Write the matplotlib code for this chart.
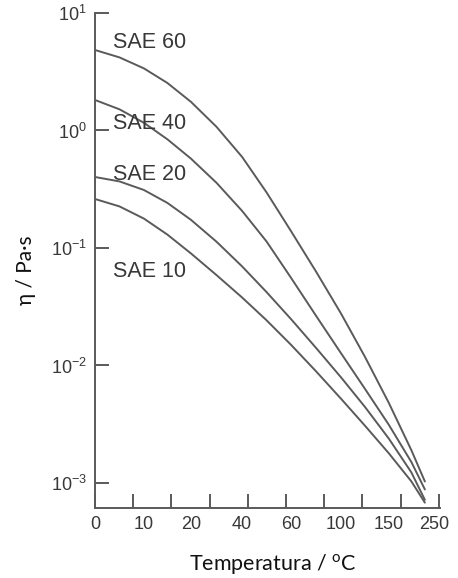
import numpy as np
import matplotlib
matplotlib.use("Agg")
import matplotlib.pyplot as plt
from matplotlib.ticker import FixedLocator, FixedFormatter, NullFormatter, NullLocator

# ---- data ----
temps = [0, 5, 10, 15, 20, 30, 40, 50, 60, 80, 100, 125, 150, 200, 230]
sae60 = [4.843, 4.190, 3.378, 2.537, 1.755, 1.075, 0.596, 0.2973, 0.1392, 0.0630,
         0.02765, 0.01186, 0.004805, 0.001902, 0.001030]
sae40 = [1.818, 1.515, 1.163, 0.8416, 0.5766, 0.3588, 0.2069, 0.1136, 0.05578, 0.02649,
         0.01270, 0.006333, 0.003129, 0.001509, 0.000881]
sae20 = [0.4019, 0.3688, 0.3116, 0.2419, 0.1738, 0.1131, 0.06973, 0.04214, 0.02483, 0.01412,
         0.007918, 0.004443, 0.002387, 0.001231, 0.000718]
sae10 = [0.2612, 0.2259, 0.1779, 0.1300, 0.08995, 0.05881, 0.03791, 0.02425, 0.01500, 0.008925,
         0.005208, 0.003075, 0.001790, 0.001032, 0.000680]
series_names = ["SAE 60", "SAE 40", "SAE 20", "SAE 10"]
x_tick_labels = [0, 10, 20, 40, 60, 100, 150, 250]

# temperature scale of the chart (label temperatures -> axis position)
scale_T = [-50, 0, 10, 20, 40, 60, 100, 150, 250, 300]
scale_P = [-6.4, 0.0, 1.28, 2.51, 3.85, 5.13, 6.44, 7.69, 8.87, 9.46]

def fwd(t):
    return np.interp(t, scale_T, scale_P)

def inv(p):
    return np.interp(p, scale_P, scale_T)

gray = "#5a5a5a"
txt = "#383838"
plt.rcParams['font.family'] = ['Liberation Sans', 'DejaVu Sans']

fig = plt.figure(figsize=(4.58, 5.78), dpi=100)
ax = fig.add_axes([95/458, (578-508)/578, (440-95)/458, (508-13)/578])
ax.set_xscale('function', functions=(fwd, inv))
ax.set_yscale('log')

for ys in (sae60, sae40, sae20, sae10):
    ax.plot(temps, ys, color=gray, lw=1.4, solid_capstyle='round', solid_joinstyle='round')

ax.set_xlim(inv(0.0), inv(9.03))
ax.set_ylim(10**-3.213, 10**1)

# x ticks: evenly spaced marks, labels placed separately
ax.xaxis.remove_overlapping_locs = False
ax.xaxis.set_major_locator(FixedLocator(inv(np.arange(10))))
ax.xaxis.set_major_formatter(NullFormatter())
ax.xaxis.set_minor_locator(FixedLocator(x_tick_labels))
ax.xaxis.set_minor_formatter(FixedFormatter([str(v) for v in x_tick_labels]))
ax.tick_params(axis='x', which='major', direction='in', length=10, width=1.4, color=gray)
ax.tick_params(axis='x', which='minor', length=0, pad=6, labelsize=13, labelcolor=txt)

ax.yaxis.set_major_locator(FixedLocator([1e-3, 1e-2, 1e-1, 1e0, 1e1]))
ax.yaxis.set_minor_locator(NullLocator())
ax.tick_params(axis='y', which='major', direction='in', length=10, width=1.4, color=gray,
               labelsize=13, labelcolor=txt, pad=6)

for s in ('top', 'right'):
    ax.spines[s].set_visible(False)
for s in ('left', 'bottom'):
    ax.spines[s].set_color(gray)
    ax.spines[s].set_linewidth(1.4)

label_pos = [0.941, 0.776, 0.673, 0.477]
for name, yp in zip(series_names, label_pos):
    ax.text(0.052, yp, name, transform=ax.transAxes, ha='left', va='center',
            fontsize=15.5, color=txt)

ax.set_xlabel(r'Temperatura / $^{\mathregular{o}}$C', family=['Lato', 'DejaVu Sans'],
              fontsize=15.5, color='#111111')
ax.xaxis.set_label_coords(0.516, -0.089)
ax.set_ylabel('η / Pa·s', family=['Lato', 'DejaVu Sans'], fontsize=15, color='#111111')
ax.yaxis.set_label_coords(-0.171, 0.48)

fig.savefig('out.png', dpi=100, facecolor='white')
